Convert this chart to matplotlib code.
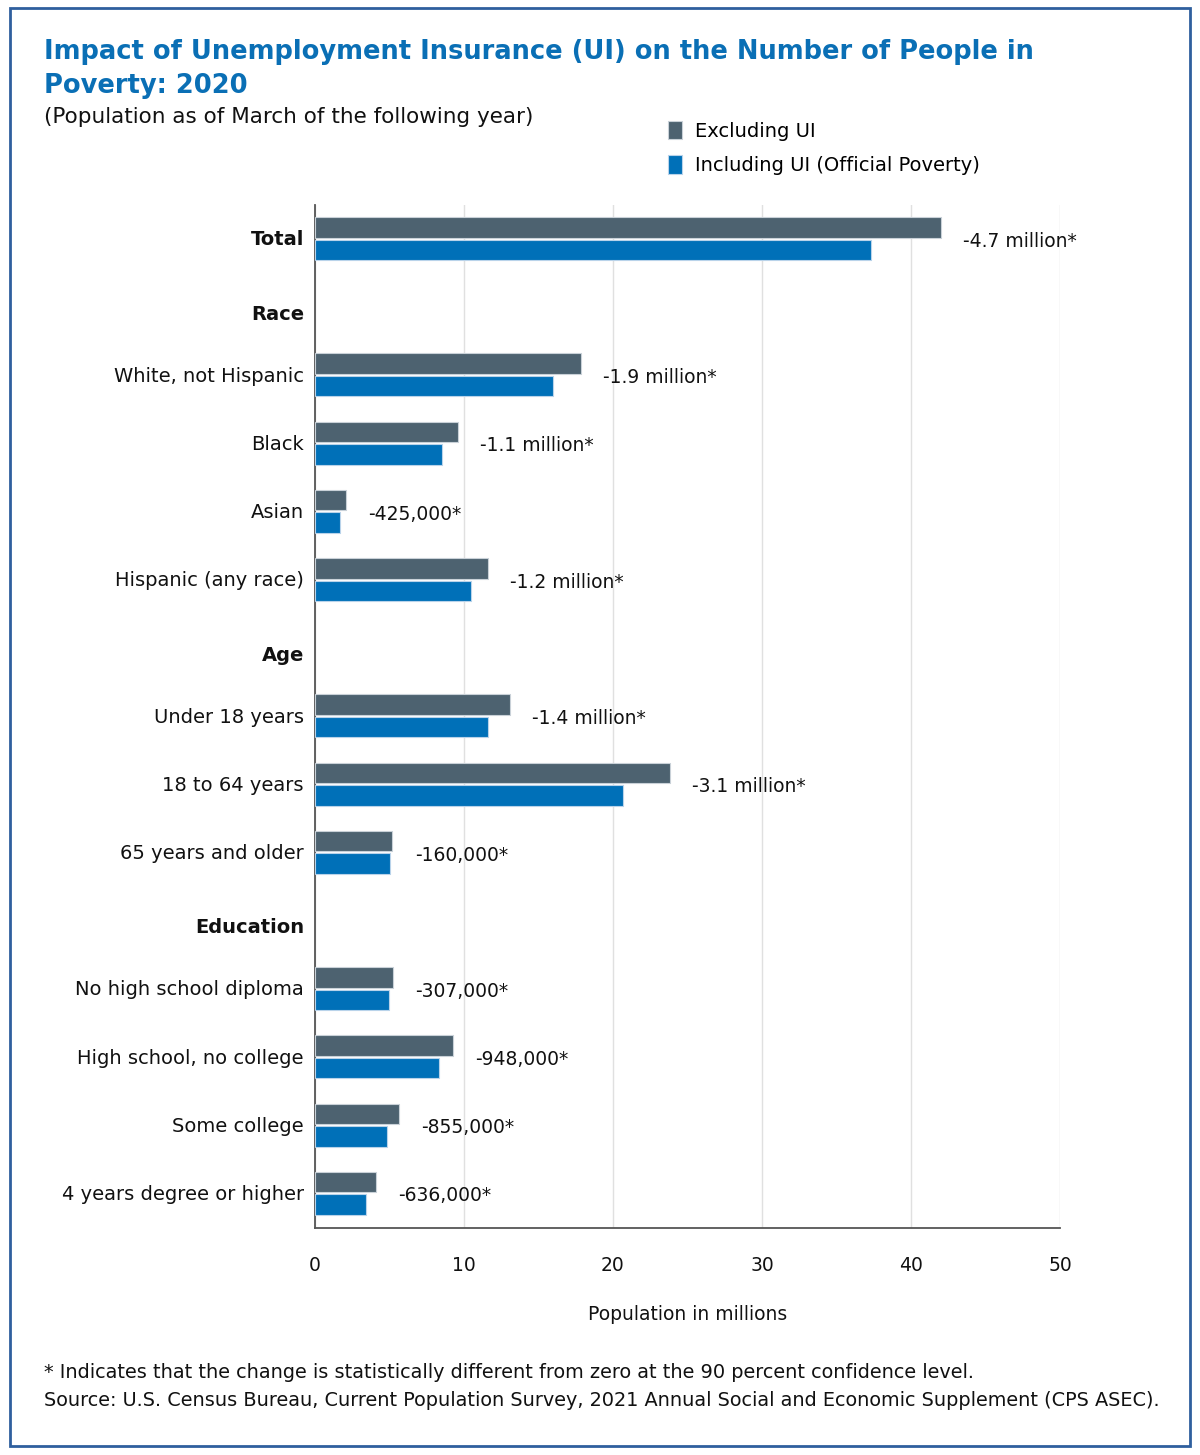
import numpy as np
import matplotlib
matplotlib.use("Agg")
import matplotlib.pyplot as plt
import matplotlib.transforms as mtransforms
from matplotlib.patches import Rectangle

# ---- data (millions of people) ----
categories = ["Total", "Race", "White, not Hispanic", "Black", "Asian",
              "Hispanic (any race)", "Age", "Under 18 years", "18 to 64 years",
              "65 years and older", "Education", "No high school diploma",
              "High school, no college", "Some college", "4 years degree or higher"]
section_headers = ["Race", "Age", "Education"]
excluding_ui = [42.0, np.nan, 17.85, 9.6, 2.1, 11.6, np.nan, 13.1, 23.8, 5.2,
                np.nan, 5.25, 9.25, 5.65, 4.1]
including_ui = [37.3, np.nan, 16.0, 8.5, 1.65, 10.45, np.nan, 11.6, 20.65, 5.05,
                np.nan, 4.95, 8.3, 4.8, 3.45]
change_labels = ["-4.7 million*", "", "-1.9 million*", "-1.1 million*", "-425,000*",
                 "-1.2 million*", "", "-1.4 million*", "-3.1 million*", "-160,000*",
                 "", "-307,000*", "-948,000*", "-855,000*", "-636,000*"]
x_ticks = [0, 10, 20, 30, 40, 50]

COL_EXCL = "#4d6270"
COL_INCL = "#0070b8"
TITLE_COL = "#0a6fb5"
FONT = "DejaVu Sans"

plt.rcParams["font.family"] = FONT

fig = plt.figure(figsize=(12, 14.55), dpi=100)
ax = fig.add_axes([0.2625, 0.156, 0.6208, 0.703])

y = np.arange(len(categories))
bar_h = 0.30
ax.barh(y - 0.155, excluding_ui, height=bar_h, color=COL_EXCL,
        edgecolor="#c9d1d8", linewidth=0.8, label="Excluding UI", zorder=3)
ax.barh(y + 0.175, including_ui, height=bar_h, color=COL_INCL,
        edgecolor="#b9d3ea", linewidth=0.8, label="Including UI (Official Poverty)", zorder=3)

for yi, val, txt in zip(y, excluding_ui, change_labels):
    if txt:
        ax.annotate(txt, (val, yi + 0.05), xytext=(16, 0), textcoords="offset points",
                    va="center", ha="left", fontsize=13.5, color="#111111")

ax.set_xlim(0, 50)
ax.set_ylim(len(categories) - 0.48, -0.48)
ax.set_xticks(x_ticks)
ax.set_xticklabels([str(t) for t in x_ticks], fontsize=13.5)

# row labels: ordinary rows as ticks, section headers as bold text a bit lower
row_idx = [i for i, c in enumerate(categories) if c not in section_headers]
ax.set_yticks(row_idx)
ax.set_yticklabels([categories[i] for i in row_idx], fontsize=14)
for lbl in ax.get_yticklabels():
    if lbl.get_text() == "Total":
        lbl.set_fontweight("bold")
lab_trans = ax.get_yaxis_transform() + mtransforms.ScaledTranslation(-11 / 100, -8 / 100, fig.dpi_scale_trans)
for i, c in enumerate(categories):
    if c in section_headers:
        ax.text(0, i, c, transform=lab_trans, ha="right", va="center",
                fontsize=14, fontweight="bold", color="#111111")

ax.tick_params(axis="both", length=0, colors="#111111")
ax.tick_params(axis="x", pad=20)
ax.tick_params(axis="y", pad=8)
ax.grid(axis="x", color="#e0e0e0", linewidth=1, zorder=0)
for s in ["top", "right"]:
    ax.spines[s].set_visible(False)
for s in ["left", "bottom"]:
    ax.spines[s].set_color("#555555")
    ax.spines[s].set_linewidth(1.3)
ax.set_xlabel("Population in millions", fontsize=13.5, labelpad=22, color="#111111")

# legend
leg = fig.legend(loc="upper left", bbox_to_anchor=(0.542, 0.929), frameon=False,
                 fontsize=14, handlelength=0.7, handleheight=1.1, handletextpad=0.7,
                 labelspacing=0.75)

# titles
fig.text(0.037, 0.964, "Impact of Unemployment Insurance (UI) on the Number of People in",
         fontsize=18.5, fontweight="bold", color=TITLE_COL, va="center")
fig.text(0.037, 0.941, "Poverty: 2020", fontsize=18.5, fontweight="bold",
         color=TITLE_COL, va="center")
fig.text(0.037, 0.9195, "(Population as of March of the following year)", fontsize=15.5,
         color="#111111", va="center")

# footnotes
fig.text(0.037, 0.0565, "* Indicates that the change is statistically different from zero at the 90 percent confidence level.",
         fontsize=13.9, color="#111111", va="center")
fig.text(0.037, 0.0375, "Source: U.S. Census Bureau, Current Population Survey, 2021 Annual Social and Economic Supplement (CPS ASEC).",
         fontsize=13.9, color="#111111", va="center")

# outer frame
fig.patches.append(Rectangle((0.0085, 0.0065), 0.983, 0.988, transform=fig.transFigure,
                             fill=False, edgecolor="#2f5f9e", linewidth=2))

fig.savefig("out.png", dpi=100)
